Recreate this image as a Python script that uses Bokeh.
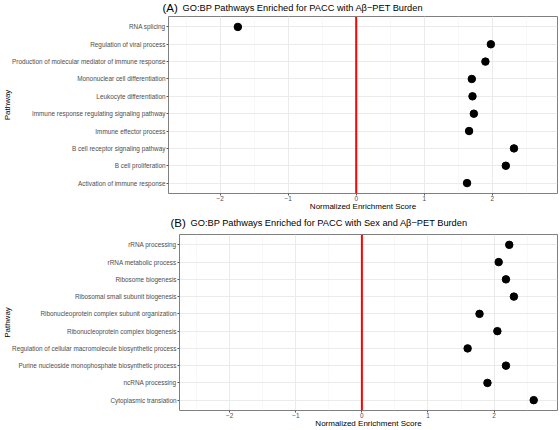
from bokeh.plotting import figure
from bokeh.layouts import column
from bokeh.models import FactorRange, Range1d, FixedTicker, Span
from bokeh.core.properties import value
from bokeh.embed import file_html
from bokeh.resources import INLINE

# Panel A: pathways enriched for PACC with Aβ-PET burden (top to bottom)
pathways_a = [
    "RNA splicing",
    "Regulation of viral process",
    "Production of molecular mediator of immune response",
    "Mononuclear cell differentiation",
    "Leukocyte differentiation",
    "Immune response regulating signaling pathway",
    "Immune effector process",
    "B cell receptor signaling pathway",
    "B cell proliferation",
    "Activation of immune response",
]
nes_a = [-1.74, 1.98, 1.90, 1.70, 1.71, 1.73, 1.66, 2.32, 2.20, 1.63]

# Panel B: pathways enriched for PACC with sex and Aβ-PET burden (top to bottom)
pathways_b = [
    "rRNA processing",
    "rRNA metabolic process",
    "Ribosome biogenesis",
    "Ribosomal small subunit biogenesis",
    "Ribonucleoprotein complex subunit organization",
    "Ribonucleoprotein complex biogenesis",
    "Regulation of cellular macromolecule biosynthetic process",
    "Purine nucleoside monophosphate biosynthetic process",
    "ncRNA processing",
    "Cytoplasmic translation",
]
nes_b = [2.23, 2.07, 2.18, 2.30, 1.78, 2.05, 1.60, 2.18, 1.90, 2.60]

x_ticks = [-2, -1, 0, 1, 2]
x_minor = [-2.5, -1.5, -0.5, 0.5, 1.5, 2.5]
x_limits = (-2.76, 2.96)

FONT = "Liberation Sans"
W = 560


def header(tag, title, height, tag_x, title_x, mid):
    """A thin strip holding the panel tag and the panel title."""
    h = figure(width=W, height=height, x_range=Range1d(0, W), y_range=Range1d(0, height),
               output_backend="svg", toolbar_location=None,
               min_border=0, outline_line_color=None, frame_align=False)
    h.axis.visible = False
    h.grid.visible = False
    h.text(x=[tag_x], y=[height - mid], text=[tag], text_font=value(FONT),
           text_font_size="11.5px", text_baseline="middle", text_color="black")
    h.text(x=[title_x], y=[height - mid], text=[title], text_font=value(FONT),
           text_font_size="9.25px", text_baseline="middle", text_color="black")
    return h


def panel(pathways, nes, height):
    factors = list(reversed(pathways))
    p = figure(
        width=W, height=height,
        y_range=FactorRange(factors=factors, range_padding=0.1,
                            range_padding_units="absolute"),
        x_range=Range1d(*x_limits),
        output_backend="svg", toolbar_location=None,
        min_border_top=1, min_border_bottom=0,
        min_border_right=3, min_border_left=0,
        frame_align=False,
    )
    p.background_fill_color = "white"
    p.outline_line_color = "#7f7f7f"
    p.outline_line_width = 1

    p.xaxis.ticker = FixedTicker(ticks=x_ticks, minor_ticks=x_minor)
    for ax in (p.xaxis[0], p.yaxis[0]):
        ax.axis_line_color = None
        ax.major_tick_line_color = "#555555"
        ax.major_tick_out = 2
        ax.major_tick_in = 0
        ax.minor_tick_line_color = None
        ax.major_label_text_color = "#4d4d4d"
        ax.major_label_text_font = FONT
        ax.major_label_text_font_size = "6.4px"
        ax.axis_label_text_font = FONT
        ax.axis_label_text_font_size = "8px"
        ax.axis_label_text_font_style = "normal"
        ax.axis_label_text_color = "#000000"
        ax.major_label_standoff = 1
        ax.axis_label_standoff = 0
    p.xaxis.axis_label = "Normalized Enrichment Score"
    p.xaxis.major_label_standoff = -2
    p.xaxis.axis_label_standoff = -2
    p.yaxis.axis_label = "Pathway"
    p.yaxis.axis_label_standoff = -3

    p.xgrid.grid_line_color = "#ebebeb"
    p.xgrid.grid_line_width = 1
    p.xgrid.minor_grid_line_color = "#f4f4f4"
    p.xgrid.minor_grid_line_width = 0.6
    p.ygrid.grid_line_color = "#ebebeb"
    p.ygrid.grid_line_width = 1

    p.add_layout(Span(location=0, dimension="height", line_color="red",
                      line_width=2))
    p.scatter(x=nes, y=pathways, size=7.5, color="black")
    return p


ha = header("(A)", "GO:BP Pathways Enriched for PACC with A\u03b2\u2212PET Burden",
            15, 162, 182, 7)
pa = panel(pathways_a, nes_a, 198)
hb = header("(B)", "GO:BP Pathways Enriched for PACC with Sex and A\u03b2\u2212PET Burden",
            20, 170, 190, 9.7)
pb = panel(pathways_b, nes_b, 197)

layout = column(ha, pa, hb, pb, spacing=0)
open("out.html", "w").write(file_html(layout, INLINE))
